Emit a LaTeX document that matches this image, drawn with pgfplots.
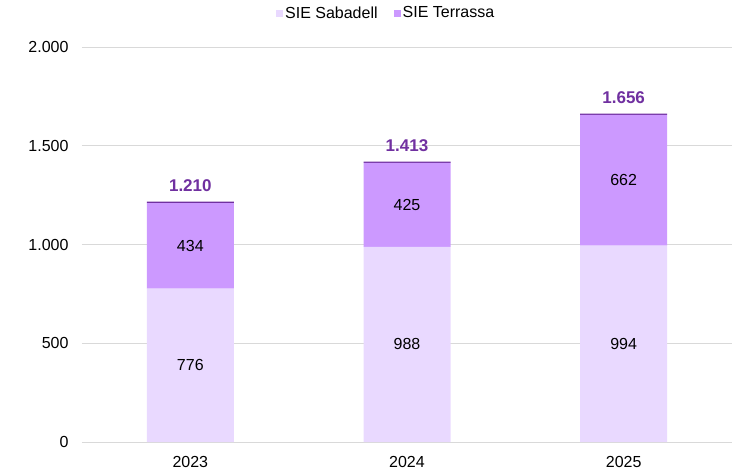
\documentclass[border=0pt]{standalone}
\usepackage{pgfplots}
\pgfplotsset{compat=1.18}
\usepackage{fontspec}
\setmainfont{Liberation Sans}
\definecolor{sab}{HTML}{E9D9FF}
\definecolor{ter}{HTML}{CC99FF}
\definecolor{tot}{HTML}{7030A0}
\definecolor{gridc}{HTML}{D9D9D9}
\begin{document}
\begin{tikzpicture}
\useasboundingbox (-82bp,-32bp) rectangle (656bp,442bp);
\begin{axis}[
 at={(0,0)}, anchor=south west,
 scale only axis, width=650bp, height=395bp,
 ybar stacked, bar width=87bp,
 xmin=-0.5, xmax=2.5, ymin=0, ymax=2000,
 xtick={0,1,2}, xticklabels={2023,2024,2025},
 ytick={0,500,1000,1500,2000},
 axis line style={draw=none}, tick style={draw=none},
 ymajorgrids, grid style={gridc, line width=0.9bp},
 font=\fontsize{16bp}{19bp}\selectfont,
 /pgf/number format/.cd, 1000 sep={.}, assume math mode=true, /pgfplots/.cd,
 yticklabel style={xshift=-10bp},
 xticklabel style={yshift=-11bp},
 legend style={draw=none, at={(0.468,1.086)}, anchor=center, legend columns=2,
   font=\fontsize{16bp}{19bp}\selectfont,
   /tikz/every even column/.append style={column sep=14bp}},
 legend image code/.code={\fill[#1] (0bp,-3.5bp) rectangle (7bp,3.5bp);},
]
\addplot[fill=sab, draw=none] coordinates {(0,776) (1,988) (2,994)};
\addplot[fill=ter, draw=none] coordinates {(0,434) (1,425) (2,662)};
\addplot[fill=tot, draw=none, forget plot] coordinates {(0,7) (1,7) (2,7)};
\legend{SIE Sabadell, SIE Terrassa}
\end{axis}
\begin{axis}[
 at={(0,0)}, anchor=south west,
 scale only axis, width=650bp, height=395bp,
 xmin=-0.5, xmax=2.5, ymin=0, ymax=2000, hide axis,
]
\addplot[draw=none, mark=none, nodes near coords, point meta=explicit symbolic,
  every node near coord/.style={anchor=center, font=\fontsize{16bp}{19bp}\selectfont, text=black}]
  coordinates {(0,388)[776] (1,494)[988] (2,497)[994]
               (0,993)[434] (1,1200.5)[425] (2,1325)[662]};
\addplot[draw=none, mark=none, nodes near coords, point meta=explicit symbolic,
  every node near coord/.style={anchor=center, font=\bfseries\fontsize{17bp}{20bp}\selectfont, text=tot}]
  coordinates {(0,1296)[1.210] (1,1499)[1.413] (2,1742)[1.656]};
\end{axis}
\end{tikzpicture}
\end{document}
